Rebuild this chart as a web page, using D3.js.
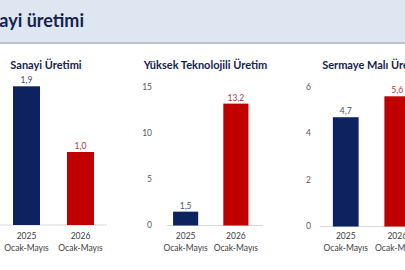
<!DOCTYPE html>
<html>
<head>
<meta charset="utf-8">
<script src="https://d3js.org/d3.v7.min.js"></script>
<style>
  body { margin: 0; background: #fff; }
  svg { display: block; font-family: Lato, "Open Sans", sans-serif; }
</style>
</head>
<body>
<div id="chart"></div>
<script>

// data
var categories = ["2025", "2026"];
var periodLabel = "Ocak-Mayıs";
var panelTitles = ["Sanayi Üretimi", "Yüksek Teknolojili Üretim", "Sermaye Malı Üretimi"];
var sanayiValues = [1.9, 1.0];
var yuksekTekValues = [1.5, 13.2];
var sermayeValues = [4.7, 5.6];
var sanayiTicks = [0, 0.5, 1, 1.5, 2];
var yuksekTekTicks = [0, 5, 10, 15];
var sermayeTicks = [0, 2, 4, 6];

var barColors = ["#0f2260", "#c00000"];
var labelColors = ["#44506b", "#b5323a"];

var width = 405, height = 270;

var svg = d3.select("#chart").append("svg")
    .attr("width", width)
    .attr("height", height);

// header band
svg.append("rect")
    .attr("x", 0).attr("y", 0)
    .attr("width", width).attr("height", 43)
    .style("fill", "#dde6f1");
svg.append("rect")
    .attr("x", 0).attr("y", 42)
    .attr("width", width).attr("height", 2)
    .style("fill", "#b9c1cf");
svg.append("text")
    .attr("x", 84).attr("y", 27)
    .attr("text-anchor", "end")
    .style("font-size", "18px")
    .style("font-weight", "bold")
    .style("fill", "#14234f")
    .text("Sanayi üretimi");

// panel layout (screen positions, not data)
var panels = [
  { values: sanayiValues, ticks: sanayiTicks, dom: [0, 2], yr: [225, 79], xr: [-0.5, 107.5], line: [0, 107], tickX: -6, titleX: 46, showTicks: false },
  { values: yuksekTekValues, ticks: yuksekTekTicks, dom: [0, 15], yr: [225.5, 87], xr: [160.5, 261], line: [167, 263], tickX: 152, titleX: 205.5, showTicks: true },
  { values: sermayeValues, ticks: sermayeTicks, dom: [0, 6], yr: [226.5, 87], xr: [320, 423], line: [320, 405], tickX: 311, titleX: 375, showTicks: true }
];

panels.forEach(function(p, i) {
  var g = svg.append("g");

  var x = d3.scaleBand()
      .domain(categories)
      .range(p.xr)
      .paddingInner(0.5)
      .paddingOuter(0.25);

  var y = d3.scaleLinear()
      .domain(p.dom)
      .range(p.yr);

  // title
  g.append("text")
      .attr("x", p.titleX).attr("y", 69)
      .attr("text-anchor", "middle")
      .style("font-size", "11px")
      .style("font-weight", "bold")
      .style("fill", "#14234f")
      .text(panelTitles[i]);

  // y tick labels
  if (p.showTicks) {
    g.append("g")
      .selectAll("text")
      .data(p.ticks)
      .enter().append("text")
        .attr("x", p.tickX)
        .attr("y", function(d) { return y(d); })
        .attr("dy", "0.35em")
        .attr("text-anchor", "end")
        .style("font-size", "8.5px")
        .style("fill", "#595959")
        .text(function(d) { return d; });
  }

  // baseline
  g.append("line")
      .attr("x1", p.line[0]).attr("x2", p.line[1])
      .attr("y1", y(0)).attr("y2", y(0))
      .style("stroke", "#d9d9d9")
      .style("stroke-width", 1);

  // bars
  g.selectAll("rect.bar")
    .data(p.values)
    .enter().append("rect")
      .attr("class", "bar")
      .attr("x", function(d, j) { return x(categories[j]); })
      .attr("y", function(d) { return y(d); })
      .attr("width", x.bandwidth())
      .attr("height", function(d) { return y(0) - y(d); })
      .style("fill", function(d, j) { return barColors[j]; });

  // value labels
  g.selectAll("text.val")
    .data(p.values)
    .enter().append("text")
      .attr("class", "val")
      .attr("x", function(d, j) { return x(categories[j]) + x.bandwidth() / 2; })
      .attr("y", function(d) { return y(d) - 3; })
      .attr("text-anchor", "middle")
      .style("font-size", "8.5px")
      .style("fill", function(d, j) { return labelColors[j]; })
      .text(function(d) { return d3.format(".1f")(d).replace(".", ","); });

  // category labels
  var cat = g.selectAll("g.cat")
    .data(categories)
    .enter().append("g")
      .attr("class", "cat")
      .attr("transform", function(d) { return "translate(" + (x(d) + x.bandwidth() / 2) + ",0)"; });
  cat.append("text")
      .attr("y", 239)
      .attr("text-anchor", "middle")
      .style("font-size", "8.5px")
      .style("fill", "#404040")
      .text(function(d) { return d; });
  cat.append("text")
      .attr("y", 251)
      .attr("text-anchor", "middle")
      .style("font-size", "8.5px")
      .style("fill", "#404040")
      .text(periodLabel);
});

</script>
</body>
</html>
